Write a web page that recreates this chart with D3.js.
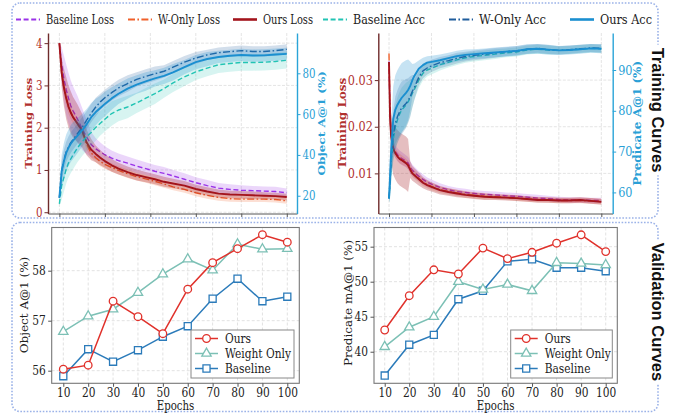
<!DOCTYPE html>
<html>
<head>
<meta charset="utf-8">
<script src="https://cdn.jsdelivr.net/npm/d3@7"></script>
<style>
body { margin: 0; background: #fff; }
svg { display: block; }
</style>
</head>
<body>
<script>
var W = 688, H = 417;
var SERIF = "'DejaVu Serif', serif";

// ---- training curves, object panel (epochs 0..100) ----
var objEpochs = [0,1,2,3,4,5,6,8,10,12,14,16,18,20,23,26,30,34,38,42,46,50,55,60,65,70,75,80,85,90,95,100];
var objBaseLoss = [4.0,3.5,3.15,2.9,2.7,2.52,2.4,2.2,1.97,1.78,1.6,1.5,1.43,1.36,1.28,1.22,1.16,1.09,1.03,0.97,0.92,0.86,0.78,0.7,0.63,0.57,0.54,0.52,0.51,0.5,0.49,0.46];
var objBaseLossSd = [0,0.4,0.55,0.6,0.6,0.6,0.58,0.55,0.5,0.4,0.3,0.25,0.22,0.2,0.18,0.17,0.16,0.16,0.15,0.15,0.15,0.14,0.14,0.13,0.13,0.12,0.12,0.12,0.11,0.11,0.11,0.1];
var objWLoss = [4.0,3.3,2.95,2.7,2.5,2.36,2.25,2.08,1.9,1.6,1.4,1.29,1.2,1.13,1.06,0.99,0.91,0.84,0.79,0.73,0.67,0.6,0.54,0.46,0.4,0.35,0.32,0.31,0.31,0.31,0.3,0.27];
var objWLossSd = [0,0.15,0.18,0.18,0.17,0.16,0.15,0.14,0.13,0.12,0.12,0.11,0.11,0.1,0.1,0.1,0.1,0.09,0.09,0.09,0.09,0.08,0.08,0.08,0.08,0.08,0.07,0.07,0.07,0.07,0.07,0.07];
var objOursLoss = [4.0,3.3,2.95,2.7,2.5,2.36,2.25,2.1,1.93,1.65,1.48,1.38,1.29,1.21,1.11,1.03,0.95,0.88,0.83,0.78,0.72,0.68,0.63,0.55,0.49,0.44,0.42,0.41,0.4,0.39,0.38,0.36];
var objOursLossSd = [0,0.35,0.45,0.5,0.5,0.5,0.48,0.45,0.4,0.3,0.25,0.2,0.18,0.16,0.15,0.14,0.13,0.13,0.12,0.12,0.12,0.11,0.11,0.1,0.1,0.1,0.09,0.09,0.09,0.08,0.08,0.08];
var objBaseAcc = [16,25,29,33,36,38,40,43.5,46.5,49,51,53.5,55.5,57.5,60.3,62,63.5,65.5,67.8,70,72.5,75.3,78.3,80.7,82.5,84.2,84.8,85.3,85.3,85.4,85.8,86.4];
var objBaseAccSd = [1,7,7,7,7,7,7,7,7,7,6.5,6.5,6,6,6,5.5,5.5,5,5,5,4.5,4.5,4.5,4,4,4,4,4,4,4,4,4];
var objWAcc = [19,32,37.5,41.5,44,46,47.5,50.5,53.5,57,60.5,63.5,66,68,70.5,72.8,75,77,78.5,79.8,81,83,85.5,87.5,89,90.1,90.6,91.1,90.7,90.7,91.1,91.7];
var objWAccSd = [1,5,5,5,5,5,5,5,5,4.5,4.5,4.5,4,4,4,4,4,3.5,3.5,3.5,3,3,3,3,2.5,2.5,2.5,2.5,2.5,2.5,2.5,2.5];
var objOursAcc = [19,32,37,41,43.5,45.5,47,49.5,52,55,58.5,61,63,65,67.7,70,72.5,74.5,76,77.5,78.7,80.5,83,85.5,87,88,88.6,89,88.7,88.8,89.2,89.5];
var objOursAccSd = [1,8,9,9,9,9,9,8.5,8,7.5,7,6.5,6,6,5.5,5,5,4.5,4.5,4,4,4,3.5,3.5,3.5,3,3,3,3,3,3,3];

// ---- training curves, predicate panel ----
var predEpochs = [0,0.5,1,2,3,4,5,6,8,9,10,11,12,14,16,18,20,24,28,32,36,40,45,50,55,60,65,70,75,80,85,90,95,100];
var predBaseLoss = [0.034,0.0225,0.0185,0.0156,0.0147,0.014,0.0135,0.0132,0.0126,0.0122,0.0113,0.0107,0.0102,0.0094,0.0087,0.0081,0.0077,0.007,0.0065,0.0061,0.0059,0.0057,0.0055,0.0054,0.0052,0.0051,0.0049,0.0047,0.0046,0.0044,0.0043,0.0043,0.0042,0.0042];
var predBaseLossSd = [0,0.0015,0.0015,0.0014,0.0014,0.0014,0.0014,0.0014,0.0013,0.0013,0.0013,0.0012,0.0012,0.0011,0.0011,0.001,0.001,0.0009,0.0008,0.0008,0.0008,0.0007,0.0007,0.0007,0.0007,0.0007,0.0007,0.0007,0.0006,0.0006,0.0006,0.0006,0.0006,0.0006];
var predWLoss = [0.0357,0.0224,0.0182,0.0153,0.0144,0.0137,0.0132,0.0129,0.0123,0.0118,0.0109,0.0101,0.0097,0.0089,0.0081,0.0076,0.0072,0.0065,0.0061,0.0058,0.0055,0.0053,0.0051,0.005,0.0049,0.0047,0.0045,0.0044,0.0043,0.0042,0.0042,0.0042,0.0041,0.004];
var predWLossSd = [0,0.001,0.001,0.001,0.001,0.001,0.001,0.001,0.0009,0.0009,0.0009,0.0009,0.0009,0.0008,0.0008,0.0008,0.0008,0.0007,0.0007,0.0007,0.0007,0.0007,0.0007,0.0006,0.0006,0.0006,0.0006,0.0006,0.0006,0.0006,0.0006,0.0006,0.0006,0.0006];
var predOursLoss = [0.0339,0.022,0.018,0.0152,0.0143,0.0136,0.0131,0.0128,0.0122,0.0117,0.0108,0.01,0.0096,0.0088,0.008,0.0075,0.0071,0.0064,0.006,0.0057,0.0054,0.0052,0.005,0.0049,0.0048,0.0047,0.0045,0.0043,0.0043,0.0042,0.0042,0.0043,0.0041,0.0039];
var predOursLossSd = [0,0.003,0.005,0.0055,0.0056,0.0057,0.0057,0.0057,0.0057,0.0057,0.0018,0.0016,0.0015,0.0014,0.0012,0.0011,0.001,0.0009,0.0008,0.0008,0.0007,0.0007,0.0007,0.0006,0.0006,0.0006,0.0006,0.0006,0.0006,0.0006,0.0006,0.0006,0.0006,0.0006];
var predBaseAcc = [58.5,62.5,67,73,76,77.8,79.2,80.2,81.4,82.2,83.2,84.3,85.3,87.5,89.2,90,90.4,91.3,91.9,92.5,93,93.3,93.6,93.9,94.2,94.4,94.9,95.1,94.9,94.8,94.9,95.1,95.3,95.2];
var predBaseAccSd = [1,4,5,5.5,5.5,5.5,5.5,5.5,5.5,5,4.5,3.5,2.5,2,1.8,1.6,1.5,1.4,1.3,1.3,1.2,1.2,1.2,1.2,1.1,1.1,1.1,1.1,1.1,1,1,1,1,1];
var predWAcc = [58.5,63,68,74,77,78.6,79.8,80.7,81.8,82.5,83.5,84.8,85.8,88.2,89.8,90.5,91,91.8,92.3,92.9,93.3,93.6,93.9,94.2,94.5,94.7,95.1,95.3,95,94.8,95,95.2,95.4,95.3];
var predWAccSd = [1,4,5,6,6.5,6.5,6.5,6.5,6,5.5,5,4,3,2,1.8,1.6,1.5,1.4,1.3,1.3,1.2,1.2,1.2,1.2,1.1,1.1,1.1,1.1,1.1,1,1,1,1,1];
var predOursAcc = [58.5,64,70,78,80.3,81.5,82.4,83.2,84.4,85.1,86.1,87.5,88.6,90.3,91.2,91.8,92,92.4,92.9,93.4,93.7,93.9,94.1,94.3,94.5,94.7,95.1,95.2,95,94.8,94.9,95.1,95.3,95.2];
var predOursAccSd = [1,5,7,8,8.5,8.5,8.5,8.5,8,7.5,6,4,3,2,1.8,1.6,1.5,1.4,1.3,1.3,1.3,1.2,1.2,1.2,1.2,1.2,1.2,1.2,1.2,1.1,1.1,1.1,1.1,1.1];

var trainXTicks = [0,20,40,60,80,100];
var objLossTicks = [0,1,2,3,4];
var objAccTicks = [20,40,60,80];
var predLossTicks = [0.01,0.02,0.03];
var predAccTicks = [60,70,80,90];

// ---- validation curves ----
var valEpochs = [10,20,30,40,50,60,70,80,90,100];
var objValOurs = [56.03,56.11,57.39,57.08,56.74,57.63,58.16,58.44,58.72,58.57];
var objValWeight = [56.78,57.09,57.23,57.56,57.93,58.23,58.01,58.53,58.43,58.44];
var objValBase = [55.89,56.43,56.18,56.41,56.68,56.89,57.44,57.84,57.39,57.48];
var predValOurs = [43.1,48.0,51.7,51.1,54.8,53.3,54.2,55.5,56.7,54.3];
var predValWeight = [40.7,43.5,45.0,50.0,48.9,49.6,48.7,52.7,52.6,52.4];
var predValBase = [36.6,41.0,42.4,47.5,48.7,52.9,53.2,52.0,52.0,51.5];
var objValTicks = [56,57,58];
var predValTicks = [40,45,50,55];

var trainLegend = ["Baseline Loss","W-Only Loss","Ours Loss","Baseline Acc","W-Only Acc","Ours Acc"];
var valLegend = ["Ours","Weight Only","Baseline"];

// styles
var C = {
	baseLoss: "#9a32e8", wLoss: "#f0602a", oursLoss: "#a3141c",
	baseAcc: "#22c4b4", wAcc: "#1f5c9c", oursAcc: "#1a8fd0",
	vOurs: "#e0312b", vWeight: "#7cc0b5", vBase: "#2b7bba"
};
var DASH = "5,2.6", DASHDOT = "7,2.4,1.6,2.4";

var svg = d3.select("body")
	.append("svg")
	.attr("width", W)
	.attr("height", H);

// the source figure is horizontally compressed, so text gets squeezed too
function squeezeText(root, s) {
	root.selectAll("text").each(function() {
		var t = d3.select(this);
		var tr = t.attr("transform");
		if (tr && tr.indexOf("rotate") >= 0) {
			t.attr("transform", tr + " scale(1," + s + ")");
		} else {
			var x = +t.attr("x") || 0;
			t.attr("x", x / s).attr("transform", "scale(" + s + ",1)");
		}
	});
}

// dotted rounded panel frames
function panelBox(y, h) {
	svg.append("rect")
		.attr("x", 12).attr("y", y)
		.attr("width", 646).attr("height", h)
		.attr("rx", 8)
		.attr("fill", "none")
		.attr("stroke", "#9bb2e8")
		.attr("stroke-width", 1.6)
		.attr("stroke-dasharray", "1.6,1.6");
}
panelBox(3, 215);
panelBox(222.5, 189);

function sideTitle(txt, cy) {
	var g = svg.append("g").attr("transform", "translate(658," + cy + ") rotate(90)");
	var t = g.append("text")
		.attr("text-anchor", "middle")
		.attr("dy", "0.36em")
		.style("font-family", "'Liberation Sans', Arial, sans-serif")
		.style("font-weight", "bold")
		.style("font-size", "16.5px")
		.attr("fill", "#111")
		.text(txt);
	var bb = t.node().getBBox();
	g.insert("rect", "text")
		.attr("x", bb.x - 3).attr("y", bb.y - 1)
		.attr("width", bb.width + 6).attr("height", bb.height + 2)
		.attr("fill", "#fff");
}
sideTitle("Training Curves", 110);
sideTitle("Validation Curves", 312);

// top legend
var legStyles = [
	{ color: C.baseLoss, dash: DASH, w: 1.8 },
	{ color: C.wLoss, dash: DASHDOT, w: 1.8 },
	{ color: C.oursLoss, dash: null, w: 2.6 },
	{ color: C.baseAcc, dash: DASH, w: 1.8 },
	{ color: C.wAcc, dash: DASHDOT, w: 1.8 },
	{ color: C.oursAcc, dash: null, w: 2.6 }
];
var legX = [16, 128, 233, 323, 449, 570];
var legTextW = [68, 62, 50, 72, 67, 52];
var leg = svg.append("g").selectAll("g")
	.data(trainLegend)
	.enter()
	.append("g")
	.attr("transform", function(d, i) { return "translate(" + legX[i] + ",19.5)"; });
leg.append("line")
	.attr("x1", 0).attr("x2", 24)
	.attr("stroke", function(d, i) { return legStyles[i].color; })
	.attr("stroke-width", function(d, i) { return legStyles[i].w; })
	.attr("stroke-dasharray", function(d, i) { return legStyles[i].dash; });
leg.append("text")
	.attr("x", 30).attr("dy", "0.35em")
	.attr("textLength", function(d, i) { return legTextW[i]; })
	.attr("lengthAdjust", "spacingAndGlyphs")
	.style("font-family", SERIF).style("font-size", "12.5px")
	.attr("fill", "#222")
	.text(function(d) { return d; });

function drawSeries(g, x, y, ep, s) {
	var area = d3.area()
		.x(function(d, i) { return x(ep[i]); })
		.y0(function(d, i) { return y(d - s.sd[i]); })
		.y1(function(d, i) { return y(d + s.sd[i]); });
	g.append("path").datum(s.mean)
		.attr("d", area)
		.attr("fill", s.color)
		.attr("fill-opacity", s.alpha);
	var line = d3.line()
		.x(function(d, i) { return x(ep[i]); })
		.y(function(d) { return y(d); });
	g.append("path").datum(s.mean)
		.attr("d", line)
		.attr("fill", "none")
		.attr("stroke", s.color)
		.attr("stroke-width", s.w)
		.attr("stroke-dasharray", s.dash)
		.attr("stroke-linejoin", "round");
}

function styleTicks(ax, lineColor, textColor, size) {
	ax.select(".domain").attr("stroke", lineColor);
	ax.selectAll(".tick line").attr("stroke", lineColor);
	ax.selectAll(".tick text")
		.attr("fill", textColor)
		.style("font-family", SERIF)
		.style("font-size", size);
}

function trainChart(c) {
	var x = d3.scaleLinear().domain(c.xDomain).range([c.left, c.right]);
	var yL = d3.scaleLinear().domain(c.lossDomain).range([c.bottom, c.top]);
	var yR = d3.scaleLinear().domain(c.accDomain).range([c.bottom, c.top]);
	var g = svg.append("g");

	// grid
	g.selectAll(".vg").data(trainXTicks).enter().append("line")
		.attr("x1", x).attr("x2", x)
		.attr("y1", c.top).attr("y2", c.bottom)
		.attr("stroke", "#e4e4e4").attr("stroke-dasharray", "3,1.5");
	g.selectAll(".hg").data(c.lossTicks).enter().append("line")
		.attr("x1", c.left).attr("x2", c.right)
		.attr("y1", yL).attr("y2", yL)
		.attr("stroke", "#e4e4e4").attr("stroke-dasharray", "3,1.5");

	svg.append("clipPath").attr("id", "clip" + c.id)
		.append("rect")
		.attr("x", c.left).attr("y", c.top - 2)
		.attr("width", c.right - c.left).attr("height", c.bottom - c.top + 2);
	var plot = g.append("g").attr("clip-path", "url(#clip" + c.id + ")");
	c.loss.forEach(function(s) { drawSeries(plot, x, yL, c.ep, s); });
	c.acc.forEach(function(s) { drawSeries(plot, x, yR, c.ep, s); });

	var axB = g.append("g")
		.attr("transform", "translate(0," + c.bottom + ")")
		.call(d3.axisBottom(x).tickValues(trainXTicks).tickFormat("").tickSize(3.5).tickSizeOuter(0));
	styleTicks(axB, "#555", "#555", "12px");

	var axL = g.append("g")
		.attr("transform", "translate(" + c.left + ",0)")
		.call(d3.axisLeft(yL).tickValues(c.lossTicks).tickFormat(c.lossFmt).tickSize(3.5).tickPadding(2).tickSizeOuter(0));
	styleTicks(axL, "#6e2b2b", "#b0302e", "12.5px");
	axL.select(".domain").attr("stroke-width", 1.4);

	var axR = g.append("g")
		.attr("transform", "translate(" + c.right + ",0)")
		.call(d3.axisRight(yR).tickValues(c.accTicks).tickFormat(d3.format("d")).tickSize(3.5).tickPadding(2).tickSizeOuter(0));
	styleTicks(axR, "#2aa4d8", "#2a9fd6", "12.5px");
	axR.select(".domain").attr("stroke-width", 1.4);

	g.append("text")
		.attr("transform", "translate(" + c.lossLabelX + "," + (c.top + c.bottom) / 2 + ") rotate(-90)")
		.attr("text-anchor", "middle").attr("dy", "0.35em")
		.style("font-family", SERIF).style("font-weight", "bold").style("font-size", "12px")
		.attr("fill", "#b0302e")
		.text("Training Loss");
	g.append("text")
		.attr("transform", "translate(" + c.accLabelX + "," + (c.top + c.bottom) / 2 + ") rotate(-90)")
		.attr("text-anchor", "middle").attr("dy", "0.35em")
		.style("font-family", SERIF).style("font-weight", "bold").style("font-size", "12px")
		.attr("fill", "#2a9fd6")
		.text(c.accLabel);

	squeezeText(g, c.squeeze);
}

function lossSeries(base, baseSd, w, wSd, ours, oursSd) {
	return [
		{ mean: base, sd: baseSd, color: C.baseLoss, alpha: 0.2, dash: DASH, w: 1.4 },
		{ mean: w, sd: wSd, color: C.wLoss, alpha: 0.2, dash: DASHDOT, w: 1.4 },
		{ mean: ours, sd: oursSd, color: C.oursLoss, alpha: 0.28, dash: null, w: 1.9 }
	];
}
function accSeries(base, baseSd, w, wSd, ours, oursSd) {
	return [
		{ mean: base, sd: baseSd, color: C.baseAcc, alpha: 0.18, dash: DASH, w: 1.4 },
		{ mean: w, sd: wSd, color: C.wAcc, alpha: 0.2, dash: DASHDOT, w: 1.4 },
		{ mean: ours, sd: oursSd, color: C.oursAcc, alpha: 0.25, dash: null, w: 1.9 }
	];
}

trainChart({
	id: "obj", left: 48, right: 297, top: 33, bottom: 213.5, squeeze: 0.82,
	xDomain: [-5, 104.5], lossDomain: [-0.03, 4.24], accDomain: [11.3, 99.75],
	ep: objEpochs, lossTicks: objLossTicks, accTicks: objAccTicks,
	lossFmt: d3.format("d"),
	loss: lossSeries(objBaseLoss, objBaseLossSd, objWLoss, objWLossSd, objOursLoss, objOursLossSd),
	acc: accSeries(objBaseAcc, objBaseAccSd, objWAcc, objWAccSd, objOursAcc, objOursAccSd),
	lossLabelX: 29, accLabelX: 322, accLabel: "Object A@1 (%)"
});

trainChart({
	id: "pred", left: 378.3, right: 612.7, top: 33, bottom: 213.5, squeeze: 0.9,
	xDomain: [-5.04, 105.36], lossDomain: [0.0014, 0.0401], accDomain: [54.83, 99.07],
	ep: predEpochs, lossTicks: predLossTicks, accTicks: predAccTicks,
	lossFmt: d3.format(".2f"),
	loss: lossSeries(predBaseLoss, predBaseLossSd, predWLoss, predWLossSd, predOursLoss, predOursLossSd),
	acc: accSeries(predBaseAcc, predBaseAccSd, predWAcc, predWAccSd, predOursAcc, predOursAccSd),
	lossLabelX: 342, accLabelX: 637, accLabel: "Predicate A@1 (%)"
});

// validation charts
function marker(sel, kind, color) {
	if (kind === "circle") {
		sel.append("circle").attr("r", 3.8);
	} else {
		sel.append("path").attr("d", d3.symbol().type(kind === "tri" ? d3.symbolTriangle : d3.symbolSquare).size(kind === "tri" ? 38 : 50));
	}
	sel.selectAll("circle,path")
		.attr("fill", "#fff")
		.attr("stroke", color)
		.attr("stroke-width", 1.3);
}

function valChart(c) {
	var x = d3.scaleLinear().domain(c.xDomain).range([c.left, c.right]);
	var y = d3.scaleLinear().domain(c.yDomain).range([c.bottom, c.top]);
	var g = svg.append("g");

	g.selectAll(".vg").data(valEpochs).enter().append("line")
		.attr("x1", x).attr("x2", x)
		.attr("y1", c.top).attr("y2", c.bottom)
		.attr("stroke", "#e2e2e2").attr("stroke-dasharray", "3,2");
	g.selectAll(".hg").data(c.ticks).enter().append("line")
		.attr("x1", c.left).attr("x2", c.right)
		.attr("y1", y).attr("y2", y)
		.attr("stroke", "#e2e2e2").attr("stroke-dasharray", "3,2");

	var series = [
		{ vals: c.base, color: C.vBase, kind: "square" },
		{ vals: c.weight, color: C.vWeight, kind: "tri" },
		{ vals: c.ours, color: C.vOurs, kind: "circle" }
	];
	series.forEach(function(s) {
		g.append("path").datum(s.vals)
			.attr("d", d3.line().x(function(d, i) { return x(valEpochs[i]); }).y(function(d) { return y(d); }))
			.attr("fill", "none")
			.attr("stroke", s.color)
			.attr("stroke-width", 1.5);
		g.selectAll(null).data(s.vals).enter().append("g")
			.attr("transform", function(d, i) { return "translate(" + x(valEpochs[i]) + "," + y(d) + ")"; })
			.each(function() { marker(d3.select(this), s.kind, s.color); });
	});

	g.append("rect")
		.attr("x", c.left).attr("y", c.top)
		.attr("width", c.right - c.left).attr("height", c.bottom - c.top)
		.attr("fill", "none").attr("stroke", "#777").attr("stroke-width", 1.1);

	var axB = g.append("g")
		.attr("transform", "translate(0," + c.bottom + ")")
		.call(d3.axisBottom(x).tickValues(valEpochs).tickSize(3.5).tickPadding(1).tickSizeOuter(0));
	styleTicks(axB, "#555", "#222", "12.5px");
	axB.select(".domain").remove();
	var axL = g.append("g")
		.attr("transform", "translate(" + c.left + ",0)")
		.call(d3.axisLeft(y).tickValues(c.ticks).tickFormat(d3.format("d")).tickSize(3.5).tickPadding(2.5).tickSizeOuter(0));
	styleTicks(axL, "#555", "#222", "12.5px");
	axL.select(".domain").remove();

	g.append("text")
		.attr("x", (c.left + c.right) / 2).attr("y", 410)
		.attr("text-anchor", "middle")
		.style("font-family", SERIF).style("font-size", "12px")
		.attr("fill", "#222")
		.text("Epochs");
	g.append("text")
		.attr("transform", "translate(" + c.labelX + "," + c.labelY + ") rotate(-90)")
		.attr("text-anchor", "middle").attr("dy", "0.35em")
		.style("font-family", SERIF).style("font-size", "12px")
		.attr("fill", "#222")
		.text(c.label);

	// legend
	var lg = g.append("g").attr("transform", "translate(" + c.legX + ",330)");
	lg.append("rect")
		.attr("width", c.legW).attr("height", 48)
		.attr("fill", "#fff").attr("stroke", "#888").attr("stroke-width", 1);
	var items = [
		{ color: C.vOurs, kind: "circle" },
		{ color: C.vWeight, kind: "tri" },
		{ color: C.vBase, kind: "square" }
	];
	var it = lg.selectAll(".it").data(valLegend).enter().append("g")
		.attr("transform", function(d, i) { return "translate(0," + (8.5 + i * 15) + ")"; });
	it.append("line")
		.attr("x1", 4).attr("x2", 27)
		.attr("stroke", function(d, i) { return items[i].color; })
		.attr("stroke-width", 1.5);
	it.each(function(d, i) {
		var m = d3.select(this).append("g").attr("transform", "translate(15.5,0)");
		marker(m, items[i].kind, items[i].color);
	});
	it.append("text")
		.attr("x", 34).attr("dy", "0.35em")
		.style("font-family", SERIF).style("font-size", "12.5px")
		.attr("fill", "#222")
		.text(function(d) { return d; });

	squeezeText(g, 0.85);
}

valChart({
	left: 51.7, right: 299.3, top: 227.5, bottom: 383.3,
	xDomain: [5.34, 104.82], yDomain: [55.748, 58.864], ticks: objValTicks,
	ours: objValOurs, weight: objValWeight, base: objValBase,
	label: "Object A@1 (%)", labelX: 24, labelY: 305,
	legX: 191, legW: 103
});
valChart({
	left: 374, right: 617.3, top: 227.5, bottom: 383.3,
	xDomain: [5.64, 104.72], yDomain: [35.49, 57.74], ticks: predValTicks,
	ours: predValOurs, weight: predValWeight, base: predValBase,
	label: "Predicate mA@1 (%)", labelX: 348, labelY: 303,
	legX: 510.7, legW: 101.6
});
</script>
</body>
</html>
